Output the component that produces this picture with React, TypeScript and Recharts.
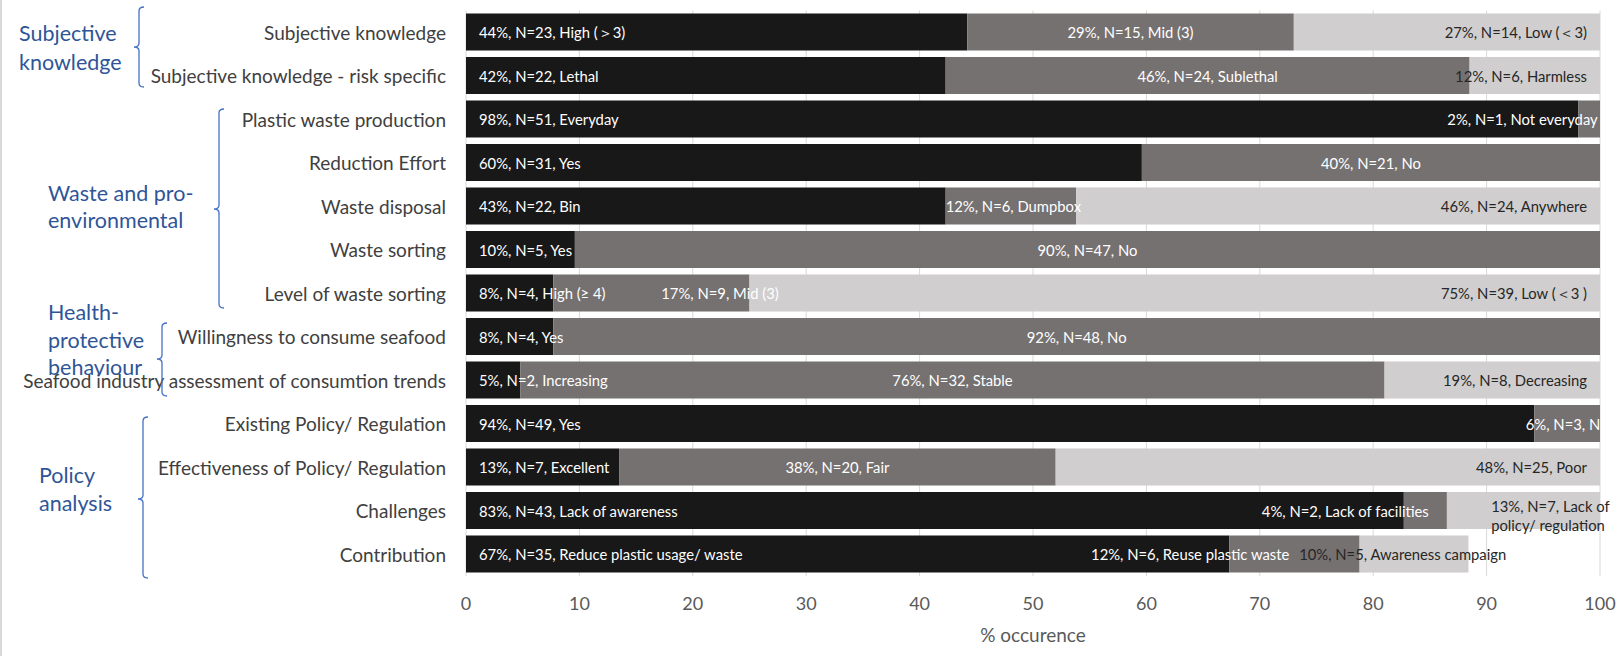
import React from 'react';
import { BarChart, Bar, XAxis, YAxis, CartesianGrid, LabelList } from 'recharts';

// ---------- data ----------
const categories = [
  'Subjective knowledge',
  'Subjective knowledge - risk specific',
  'Plastic waste production',
  'Reduction Effort',
  'Waste disposal',
  'Waste sorting',
  'Level of waste sorting',
  'Willingness to consume seafood',
  'Seafood industry assessment of consumtion trends',
  'Existing Policy/ Regulation',
  'Effectiveness of Policy/ Regulation',
  'Challenges',
  'Contribution',
];

const firstValues = [44.2, 42.3, 98.1, 59.6, 42.3, 9.6, 7.7, 7.7, 4.8, 94.2, 13.5, 82.7, 67.3];
const secondValues = [28.8, 46.2, 1.9, 40.4, 11.5, 90.4, 17.3, 92.3, 76.2, 5.8, 38.5, 3.8, 11.5];
const thirdValues = [27.0, 11.5, 0, 0, 46.2, 0, 75.0, 0, 19.0, 0, 48.0, 13.5, 9.6];

const firstLabels = [
  '44%, N=23, High (＞3)',
  '42%, N=22, Lethal',
  '98%, N=51, Everyday',
  '60%, N=31, Yes',
  '43%, N=22, Bin',
  '10%, N=5, Yes',
  '8%, N=4, High (≥ 4)',
  '8%, N=4, Yes',
  '5%, N=2, Increasing',
  '94%, N=49, Yes',
  '13%, N=7, Excellent',
  '83%, N=43, Lack of awareness',
  '67%, N=35, Reduce plastic usage/ waste',
];
const secondLabels = [
  '29%, N=15, Mid (3)',
  '46%, N=24, Sublethal',
  '2%, N=1, Not everyday',
  '40%, N=21, No',
  '12%, N=6, Dumpbox',
  '90%, N=47, No',
  '17%, N=9, Mid (3)',
  '92%, N=48, No',
  '76%, N=32, Stable',
  '6%, N=3, No',
  '38%, N=20, Fair',
  '4%, N=2, Lack of facilities',
  '12%, N=6, Reuse plastic waste',
];
const thirdLabels = [
  '27%, N=14, Low (＜3)',
  '12%, N=6, Harmless',
  '',
  '',
  '46%, N=24, Anywhere',
  '',
  '75%, N=39, Low (＜3 )',
  '',
  '19%, N=8, Decreasing',
  '',
  '48%, N=25, Poor',
  '13%, N=7, Lack of\npolicy/ regulation',
  '10%, N=5, Awareness campaign',
];

const xTicks = [0, 10, 20, 30, 40, 50, 60, 70, 80, 90, 100];
const xTitle = '% occurence';

const groupTitles = [
  ['Subjective', 'knowledge'],
  ['Waste and pro-', 'environmental'],
  ['Health-', 'protective', 'behaviour'],
  ['Policy', 'analysis'],
];

// ---------- layout / style (not data) ----------
const W = 1624;
const H = 656;
const PLOT_LEFT = 466;
const PLOT_RIGHT = 1600;
const PLOT_TOP = 10.5;
const PLOT_BOTTOM = 576;
const FONT = 'Lato, "Noto Sans", sans-serif';
const C1 = '#181818';
const C2 = '#767171';
const C3 = '#d0cece';
const BLUE = '#2f5597';
const BRACKET = '#4472c4';

type Place = 'base' | 'center' | 'end' | { at: number; anchor: 'start' | 'middle' | 'end' };
const firstPlace: Place[] = categories.map(() => 'base');
const secondPlace: Place[] = [
  'center', 'center', { at: 99.8, anchor: 'end' }, 'center', { at: 42.3, anchor: 'start' },
  'center', { at: 22.4, anchor: 'middle' }, 'center', 'center', 'center', 'center',
  { at: 84.9, anchor: 'end' }, { at: 72.6, anchor: 'end' },
];
const thirdPlace: Place[] = [
  'end', 'end', 'end', 'end', 'end', 'end', 'end', 'end', 'end', 'end', 'end',
  { at: 90.4, anchor: 'start' }, { at: 82.6, anchor: 'middle' },
];

// group annotation geometry (pixels)
const groupLayout = [
  { tx: 19, ty: [33, 62], bx: 139, y1: 7, y2: 87, ny: 47 },
  { tx: 48, ty: [193, 220], bx: 219, y1: 109, y2: 308, ny: 209 },
  { tx: 48, ty: [312, 340, 367], bx: 162, y1: 323, y2: 396, ny: 359 },
  { tx: 39, ty: [475, 503], bx: 143, y1: 417, y2: 578, ny: 499 },
];

const data = categories.map((name, i) => ({
  name,
  s1: firstValues[i],
  s2: secondValues[i],
  s3: thirdValues[i],
  l1: firstLabels[i],
  l2: secondLabels[i],
  l3: thirdLabels[i],
}));

const starts = [
  categories.map(() => 0),
  firstValues.map((v) => v),
  firstValues.map((v, i) => v + secondValues[i]),
];
const segValues = [firstValues, secondValues, thirdValues];
const segLabels = [firstLabels, secondLabels, thirdLabels];
const places = [firstPlace, secondPlace, thirdPlace];

const makeLabel = (seg: number, color: string, clip: boolean) => (props: any) => {
  const vb = props.viewBox || props;
  const text: string = props.value;
  if (!text || vb == null) return null;
  const index = segLabels[seg].indexOf(text);
  if (index < 0) return null;
  const { x, y, width, height } = vb;
  const v = segValues[seg][index];
  if (!v || !width) return null;
  const ppu = width / v; // pixels per unit, from the library's bar geometry
  const x0 = x - starts[seg][index] * ppu;
  const scale = (val: number) => x0 + val * ppu;
  const place = places[seg][index];
  const pad = 13;
  let tx = x;
  let anchor: 'start' | 'middle' | 'end' = 'start';
  if (place === 'base') {
    tx = x + pad;
    anchor = 'start';
  } else if (place === 'center') {
    tx = x + width / 2;
    anchor = 'middle';
  } else if (place === 'end') {
    tx = x + width - pad;
    anchor = 'end';
  } else {
    tx = scale(place.at);
    anchor = place.anchor;
  }
  const lines = text.split('\n');
  const cy = y + height / 2;
  const lh = 19.3;
  const clipId = `lblclip-${seg}-${index}`;
  const firstY = lines.length > 1 ? cy - 4.5 : cy;
  return (
    <g key={`lbl-${seg}-${index}`}>
      {clip && (
        <defs>
          <clipPath id={clipId}>
            <rect x={scale(0)} y={y - 5} width={100 * ppu} height={height + 10} />
          </clipPath>
        </defs>
      )}
      <text
        x={tx}
        y={firstY}
        textAnchor={anchor}
        fill={color}
        fontSize={14.8}
        fontFamily={FONT}
        dominantBaseline="central"
        clipPath={clip ? `url(#${clipId})` : undefined}
      >
        {lines.map((ln, k) => (
          <tspan key={k} x={tx} y={firstY + k * lh} dominantBaseline="central">
            {ln}
          </tspan>
        ))}
      </text>
    </g>
  );
};

const YTick = (props: any) => {
  const { x, y, payload } = props;
  return (
    <text x={x} y={y} textAnchor="end" dominantBaseline="central" fill="#404040" fontSize={19} fontFamily={FONT}>
      {payload.value}
    </text>
  );
};

const XTick = (props: any) => {
  const { x, y, payload } = props;
  return (
    <text x={x} y={y + 27} textAnchor="middle" dominantBaseline="central" fill="#595959" fontSize={18} fontFamily={FONT}>
      {payload.value}
    </text>
  );
};

export default function App() {
  return (
    <div style={{ position: 'absolute', left: 0, top: 0, width: W, height: H, background: '#fff' }}>
      <BarChart
        width={W}
        height={H}
        data={data}
        layout="vertical"
        margin={{ top: PLOT_TOP, right: W - PLOT_RIGHT, bottom: 0, left: 0 }}
        barSize={37}
      >
        <CartesianGrid horizontal={false} stroke="#d9d9d9" />
        <XAxis
          type="number"
          domain={[0, 100]}
          ticks={xTicks}
          tickLine={false}
          axisLine={false}
          tickSize={0}
          tickMargin={0}
          height={H - PLOT_BOTTOM}
          tick={<XTick />}
          interval={0}
          allowDataOverflow
        />
        <YAxis
          type="category"
          dataKey="name"
          width={PLOT_LEFT}
          tickLine={false}
          axisLine={false}
          tickSize={0}
          tickMargin={20}
          tick={<YTick />}
          interval={0}
        />
        <Bar dataKey="s1" stackId="a" fill={C1} isAnimationActive={false}>
          <LabelList dataKey="l1" content={makeLabel(0, '#ffffff', false)} />
        </Bar>
        <Bar dataKey="s2" stackId="a" fill={C2} isAnimationActive={false}>
          <LabelList dataKey="l2" content={makeLabel(1, '#ffffff', true)} />
        </Bar>
        <Bar dataKey="s3" stackId="a" fill={C3} isAnimationActive={false}>
          <LabelList dataKey="l3" content={makeLabel(2, '#262626', false)} />
        </Bar>
      </BarChart>
      <svg
        width={W}
        height={H}
        style={{ position: 'absolute', left: 0, top: 0, pointerEvents: 'none' }}
      >
        <rect x={0} y={0} width={2} height={H} fill="#d9d9d9" />
        {groupLayout.map((g, gi) => (
          <g key={gi}>
            {groupTitles[gi].map((t, k) => (
              <text
                key={k}
                x={g.tx}
                y={g.ty[k]}
                dominantBaseline="central"
                fill={BLUE}
                fontSize={21.5}
                fontFamily={FONT}
              >
                {t}
              </text>
            ))}
            <path
              d={`M${g.bx + 5},${g.y1} Q${g.bx},${g.y1} ${g.bx},${g.y1 + 4} L${g.bx},${g.ny - 4} Q${g.bx},${g.ny} ${g.bx - 5},${g.ny} Q${g.bx},${g.ny} ${g.bx},${g.ny + 4} L${g.bx},${g.y2 - 4} Q${g.bx},${g.y2} ${g.bx + 5},${g.y2}`}
              fill="none"
              stroke={BRACKET}
              strokeWidth={1.3}
            />
          </g>
        ))}
        <text
          x={(PLOT_LEFT + PLOT_RIGHT) / 2}
          y={634}
          textAnchor="middle"
          dominantBaseline="central"
          fill="#595959"
          fontSize={19}
          fontFamily={FONT}
        >
          {xTitle}
        </text>
      </svg>
    </div>
  );
}
